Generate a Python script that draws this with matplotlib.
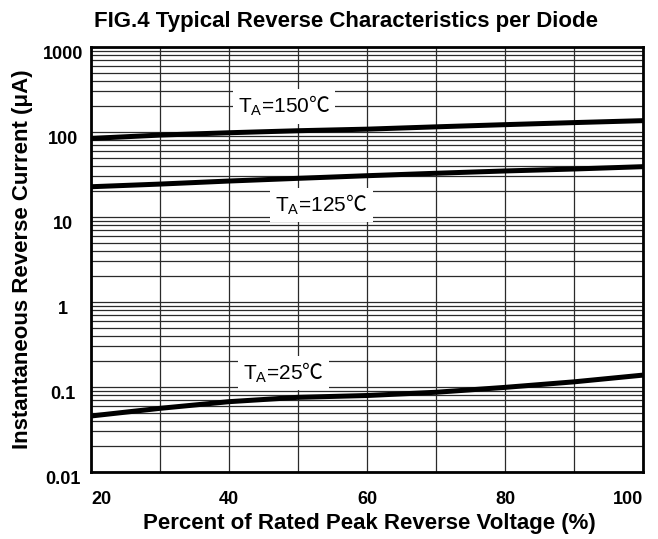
import numpy as np
import matplotlib.pyplot as plt
from matplotlib.ticker import FixedLocator, LogLocator, NullFormatter
from matplotlib.transforms import ScaledTranslation

plt.rcParams['font.family'] = ['Liberation Sans', 'Noto Sans CJK SC', 'DejaVu Sans']
plt.rcParams['mathtext.fontset'] = 'custom'
plt.rcParams['mathtext.rm'] = 'Noto Sans CJK SC'
plt.rcParams['mathtext.default'] = 'regular'

# percent of rated peak reverse voltage
pct = [20, 30, 40, 50, 60, 70, 80, 90, 100]
# reverse current (uA)
ir_150 = [84, 92, 98, 103.5, 108, 115, 122, 129, 136]
ir_125 = [22.7, 24.4, 26.5, 28.5, 30.6, 32.7, 34.8, 36.7, 39.1]
ir_25 = [0.0456, 0.0561, 0.0672, 0.0756, 0.0794, 0.0867, 0.099, 0.115, 0.138]

xticks = [20, 40, 60, 80, 100]
yticks = [0.01, 0.1, 1, 10, 100, 1000]
ytick_labels = ['0.01', '0.1', '1', '10', '100', '1000']

labels = ['150', '125', '25']
label_pos = [(41.3, 167), (46.7, 11.5), (42.0, 0.121)]

fig = plt.figure(figsize=(6.58, 5.39), dpi=100)
ax = fig.add_axes([0.1383, 0.1243, 0.8389, 0.7885])

ax.set_yscale('log')
ax.set_xlim(20, 100)
ax.set_ylim(0.01, 1000)

ax.yaxis.set_minor_locator(LogLocator(base=10, subs=np.arange(2, 10)))
ax.yaxis.set_minor_formatter(NullFormatter())
ax.grid(True, which='both', color='#2a2a2a', lw=0.9)
ax.set_axisbelow(True)

ax.set_xticks(np.arange(20, 101, 10))
ax.set_xticklabels([str(v) if v in xticks else '' for v in range(20, 101, 10)],
                   fontsize=13, fontweight='bold')
ax.set_yticks(yticks)
ax.set_yticklabels(ytick_labels, fontsize=13, fontweight='bold')
ax.tick_params(axis='both', which='both', length=0)
ax.tick_params(axis='x', pad=14)
ax.tick_params(axis='y', pad=20)
for lbl in ax.get_yticklabels():
    lbl.set_horizontalalignment('center')
    lbl.set_transform(lbl.get_transform() + ScaledTranslation(0, -5/100, fig.dpi_scale_trans))
xl = ax.get_xticklabels()
xl[0].set_horizontalalignment('left')
xl[-1].set_horizontalalignment('right')

for s in ax.spines.values():
    s.set_linewidth(2)
    s.set_color('black')

for y in [ir_150, ir_125, ir_25]:
    ax.plot(pct, y, color='black', lw=3.6, solid_capstyle='butt', zorder=3)

for t, (x, y) in zip(labels, label_pos):
    ax.text(x, y, r'T$_{A}$=' + t + r'$\mathrm{℃}$', fontsize=15, ha='left', va='baseline',
            zorder=4,
            bbox=dict(boxstyle='square,pad=0.25', facecolor='white', edgecolor='none'))

ax.set_xlabel('Percent of Rated Peak Reverse Voltage (%)', fontsize=16, fontweight='bold')
ax.xaxis.set_label_coords(0.505, -0.097)
ax.set_ylabel('Instantaneous Reverse Current (μA)', fontsize=16, fontweight='bold')
ax.yaxis.set_label_coords(-0.105, 0.5)

fig.text(0.526, 1 - 22/539, 'FIG.4 Typical Reverse Characteristics per Diode',
         ha='center', va='center', fontsize=16, fontweight='bold')

fig.savefig('out.png', dpi=100)
